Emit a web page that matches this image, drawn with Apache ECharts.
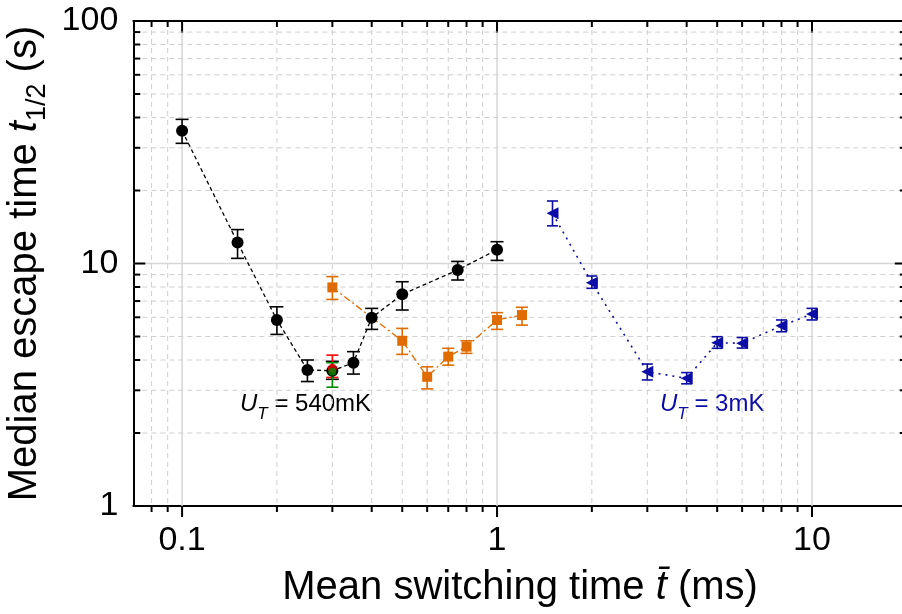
<!DOCTYPE html>
<html><head><meta charset="utf-8">
<script src="https://cdn.jsdelivr.net/npm/echarts@6/dist/echarts.min.js"></script>
<style>html,body{margin:0;padding:0;background:#fff}#c{width:902px;height:614px}</style>
</head><body><div id="c"></div>
<script>
// ---- data ----
const blackX  = [0.1, 0.15, 0.2, 0.25, 0.3, 0.35, 0.4, 0.5, 0.75, 1.0];
const blackY  = [35.3, 12.2, 5.85, 3.64, 3.61, 3.90, 5.98, 7.46, 9.40, 11.4];
const blackLo = [31.3, 10.5, 5.10, 3.26, 3.33, 3.50, 5.35, 6.43, 8.55, 10.3];
const blackHi = [39.3, 13.8, 6.63, 4.00, 3.95, 4.33, 6.53, 8.41, 10.2, 12.3];

const orangeX  = [0.3, 0.5, 0.6, 0.7, 0.8, 1.0, 1.2];
const orangeY  = [7.97, 4.80, 3.41, 4.13, 4.54, 5.85, 6.13];
const orangeLo = [7.11, 4.22, 3.04, 3.81, 4.26, 5.35, 5.57];
const orangeHi = [8.83, 5.40, 3.75, 4.47, 4.80, 6.27, 6.60];

const blueX  = [1.5, 2, 3, 4, 5, 6, 8, 10];
const blueY  = [16.1, 8.33, 3.58, 3.36, 4.71, 4.69, 5.54, 6.19];
const blueLo = [14.3, 7.90, 3.31, 3.19, 4.47, 4.48, 5.23, 5.85];
const blueHi = [18.1, 8.88, 3.85, 3.55, 4.99, 4.95, 5.85, 6.53];

const redX = [0.3],   redY = [3.70],   redLo = [3.39],   redHi = [4.19];
const greenX = [0.3], greenY = [3.58], greenLo = [3.09], greenHi = [3.90];

// ---- axis ticks ----
const xMajor = [0.1, 1, 10];
const xTickLabels = ['0.1', '1', '10'];
const xMinor = [0.08, 0.09, 0.2, 0.3, 0.4, 0.5, 0.6, 0.7, 0.8, 0.9, 2, 3, 4, 5, 6, 7, 8, 9];
const yMajor = [10];
const yLabelValues = [1, 10, 100];
const yTickLabels = ['1', '10', '100'];
const yMinor = [2, 3, 4, 5, 6, 7, 8, 9, 20, 30, 40, 50, 60, 70, 80, 90];

const FONT = "'Liberation Sans', Arial, sans-serif";
const C_BLACK = '#000000', C_ORANGE = '#e06c00', C_BLUE = '#0c0ca6', C_RED = '#ff0000', C_GREEN = '#008a00';

function zip(xs, ys) { return xs.map((x, i) => [x, ys[i]]); }
function zipErr(xs, ys, lo, hi) { return xs.map((x, i) => [x, ys[i], lo[i], hi[i]]); }
function labelFor(vals, labels, v) {
  const i = vals.findIndex(t => Math.abs(Math.log10(t) - Math.log10(v)) < 1e-6);
  return i >= 0 ? labels[i] : '';
}

function errSeries(data, color, capW, lw) {
  return {
    type: 'custom', z: 3, silent: true,
    data: data,
    encode: { x: 0, y: [1, 2, 3] },
    renderItem: function (params, api) {
      const c = api.coord([api.value(0), api.value(1)]);
      const lo = api.coord([api.value(0), api.value(2)]);
      const hi = api.coord([api.value(0), api.value(3)]);
      const w = capW / 2;
      const st = { stroke: color, lineWidth: lw };
      return { type: 'group', children: [
        { type: 'line', shape: { x1: c[0], y1: lo[1], x2: c[0], y2: hi[1] }, style: st },
        { type: 'line', shape: { x1: c[0] - w, y1: hi[1], x2: c[0] + w, y2: hi[1] }, style: st },
        { type: 'line', shape: { x1: c[0] - w, y1: lo[1], x2: c[0] + w, y2: lo[1] }, style: st }
      ]};
    }
  };
}

const xGridData = xMajor.map(v => [v, 10, 1]).concat(xMinor.map(v => [v, 10, 0]));
const yGridData = yMajor.map(v => [1, v, 1]).concat(yMinor.map(v => [1, v, 0]));

function annot(left, label, color) {
  return { type: 'text', left: left, top: 392, silent: true,
    style: { text: '{u|U}{t|T}{r| = ' + label + '}', fill: color,
      rich: { u: { fontSize: 24, lineHeight: 37, fontFamily: FONT, fontStyle: 'italic', fill: color },
              t: { fontSize: 17, lineHeight: 17, fontFamily: FONT, fontStyle: 'italic', fill: color, verticalAlign: 'bottom' },
              r: { fontSize: 24, lineHeight: 37, fontFamily: FONT, fill: color } } } };
}

const chart = echarts.init(document.getElementById('c'), null, { renderer: 'canvas' });
chart.setOption({
  backgroundColor: '#ffffff',
  animation: false,
  grid: { left: 133.3, top: 21, right: -4.8, bottom: 108, containLabel: false, outerBoundsMode: 'none' },
  xAxis: [{
    type: 'log', logBase: 10, min: 0.07, max: 20,
    axisLine: { show: true, onZero: false, lineStyle: { color: '#000', width: 2 } },
    axisTick: { show: false }, splitLine: { show: false },
    axisLabel: { fontSize: 34, color: '#000', fontFamily: FONT, margin: 18,
      formatter: v => labelFor(xMajor, xTickLabels, v) },
    name: '{n|Mean switching time }{i|t\u0304}{n| (ms)}',
    nameLocation: 'middle', nameGap: 62,
    nameTextStyle: { fontFamily: FONT, color: '#000', fontSize: 40,
      rich: { n: { fontSize: 40, fontFamily: FONT, color: '#000' },
              i: { fontSize: 40, fontFamily: FONT, fontStyle: 'italic', color: '#000' } } }
  }, {
    type: 'log', logBase: 10, min: 0.07, max: 20, position: 'top',
    axisLine: { show: true, onZero: false, lineStyle: { color: '#000', width: 2 } },
    axisTick: { show: false }, splitLine: { show: false }, axisLabel: { show: false }
  }],
  yAxis: [{
    type: 'log', logBase: 10, min: 1, max: 100,
    axisLine: { show: true, onZero: false, lineStyle: { color: '#000', width: 2 } },
    axisTick: { show: false }, splitLine: { show: false },
    axisLabel: { fontSize: 34, color: '#000', fontFamily: FONT, margin: 15,
      formatter: v => labelFor(yLabelValues, yTickLabels, v) },
    name: '{n|Median escape time }{i|t}{s|1/2}{n| (s)}',
    nameLocation: 'middle', nameGap: 82, nameRotate: 90,
    nameTextStyle: { fontFamily: FONT, color: '#000', fontSize: 40,
      rich: { n: { fontSize: 40, lineHeight: 51, fontFamily: FONT, color: '#000' },
              i: { fontSize: 40, lineHeight: 51, fontFamily: FONT, fontStyle: 'italic', color: '#000' },
              s: { fontSize: 27, lineHeight: 27, fontFamily: FONT, color: '#000', verticalAlign: 'bottom' } } }
  }],
  graphic: [ annot(240, '540mK', '#000'), annot(660, '3mK', C_BLUE) ],
  series: [
    { // vertical grid lines + x ticks
      type: 'custom', z: 1, silent: true, clip: false, data: xGridData,
      encode: { x: 0, y: 1 },
      renderItem: function (params, api) {
        const cs = params.coordSys;
        const x = api.coord([api.value(0), api.value(1)])[0];
        const major = api.value(2) === 1;
        const top = cs.y, bot = cs.y + cs.height;
        return { type: 'group', children: [
          { type: 'line', shape: { x1: x, y1: top, x2: x, y2: bot },
            style: { stroke: major ? '#d6d6d6' : '#cfcfcf', lineWidth: major ? 1.5 : 1, lineDash: major ? null : [5, 4] } },
          { type: 'line', shape: { x1: x, y1: top, x2: x, y2: top + (major ? 12 : 6) }, style: { stroke: '#000', lineWidth: 2 } },
          { type: 'line', shape: { x1: x, y1: bot, x2: x, y2: bot + (major ? 11 : 6) }, style: { stroke: '#000', lineWidth: 2 } }
        ]};
      }
    },
    { // horizontal grid lines + y ticks
      type: 'custom', z: 1, silent: true, clip: false, data: yGridData,
      encode: { x: 0, y: 1 },
      renderItem: function (params, api) {
        const cs = params.coordSys;
        const y = api.coord([api.value(0), api.value(1)])[1];
        const major = api.value(2) === 1;
        const l = cs.x, r = cs.x + cs.width;
        return { type: 'group', children: [
          { type: 'line', shape: { x1: l, y1: y, x2: r, y2: y },
            style: { stroke: major ? '#d6d6d6' : '#cfcfcf', lineWidth: major ? 1.5 : 1, lineDash: major ? null : [5, 4] } },
          { type: 'line', shape: { x1: l, y1: y, x2: l + (major ? 12 : 7), y2: y }, style: { stroke: '#000', lineWidth: 2 } },
          { type: 'line', shape: { x1: r, y1: y, x2: r - (major ? 12 : 7), y2: y }, style: { stroke: '#000', lineWidth: 2 } }
        ]};
      }
    },
    errSeries(zipErr(blackX, blackY, blackLo, blackHi), C_BLACK, 13, 1.6),
    errSeries(zipErr(orangeX, orangeY, orangeLo, orangeHi), C_ORANGE, 12, 1.6),
    errSeries(zipErr(blueX, blueY, blueLo, blueHi), C_BLUE, 11, 1.6),
    errSeries(zipErr(redX, redY, redLo, redHi), C_RED, 12, 1.6),
    errSeries(zipErr(greenX, greenY, greenLo, greenHi), C_GREEN, 12, 1.6),
    { type: 'line', z: 4, data: zip(blackX, blackY), symbol: 'circle', symbolSize: 12, showAllSymbol: true,
      itemStyle: { color: C_BLACK }, lineStyle: { color: C_BLACK, width: 1.3, type: [4, 3] } },
    { type: 'line', z: 4, data: zip(orangeX, orangeY), symbol: 'rect', symbolSize: 10, showAllSymbol: true,
      itemStyle: { color: C_ORANGE }, lineStyle: { color: C_ORANGE, width: 1.3, type: [7, 3, 2, 3] } },
    { type: 'line', z: 4, data: zip(blueX, blueY), symbol: 'triangle', symbolRotate: 90, symbolSize: 12, showAllSymbol: true,
      itemStyle: { color: C_BLUE }, lineStyle: { color: C_BLUE, width: 1.6, type: [2, 5] } },
    { type: 'scatter', z: 5, data: zip(redX, redY), symbol: 'circle', symbolSize: 9, itemStyle: { color: C_RED } },
    { type: 'scatter', z: 5, data: zip(greenX, greenY), symbol: 'circle', symbolSize: 8, itemStyle: { color: C_GREEN } }
  ]
});
</script>
</body></html>
